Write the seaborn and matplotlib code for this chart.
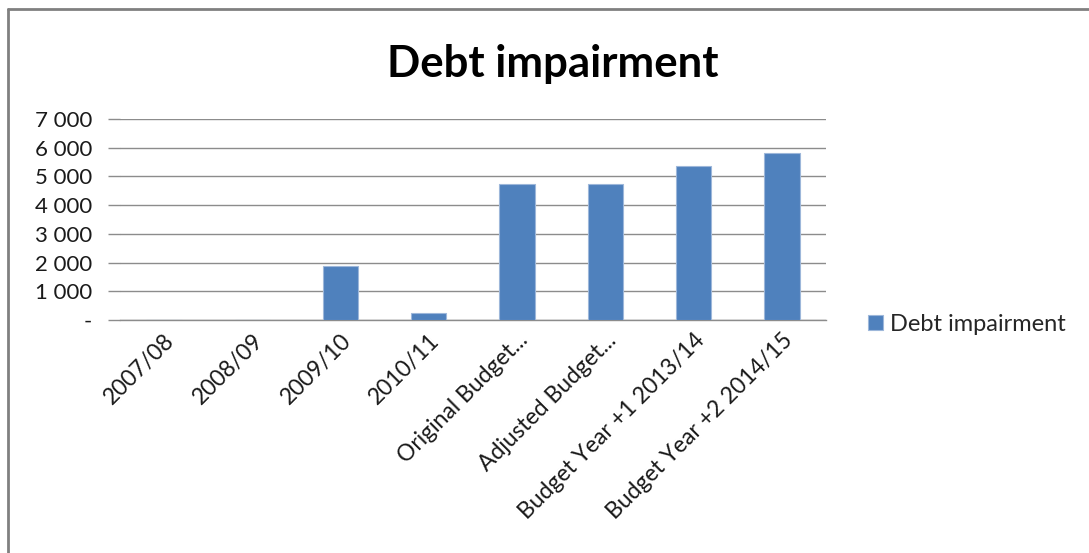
import matplotlib
matplotlib.use('Agg')
import matplotlib.pyplot as plt
import matplotlib.ticker as mticker
import pandas as pd
import seaborn as sns

# Data
categories = ['2007/08', '2008/09', '2009/10', '2010/11', 'Original Budget...',
              'Adjusted Budget...', 'Budget Year +1 2013/14', 'Budget Year +2 2014/15']
values = [0, 0, 1890, 240, 4740, 4740, 5370, 5810]
series_name = 'Debt impairment'

df = pd.DataFrame({'period': categories, 'value': values, 'series': series_name})

sns.set_style('white')
plt.rcParams['font.family'] = ['Lato', 'DejaVu Sans']

fig = plt.figure(figsize=(10.89, 5.53), dpi=100)
ax = fig.add_axes([0.110, 0.4214, 0.6485, 0.3636])

sns.barplot(data=df, x='period', y='value', hue='series', order=categories,
            palette=['#4F81BD'], saturation=1, width=0.4, edgecolor='#9DB7DA',
            linewidth=0.8, ax=ax, zorder=3)

ax.set_ylim(0, 7000)
ax.set_xlim(-0.5, len(categories) - 0.5)
ax.yaxis.set_major_locator(mticker.MultipleLocator(1000))
ax.yaxis.set_major_formatter(mticker.FuncFormatter(
    lambda v, p: '-' if v == 0 else f'{int(v):,}'.replace(',', ' ')))
ax.grid(axis='y', color='#8c8c8c', linewidth=1.0, zorder=0)
ax.set_xlabel('')
ax.set_ylabel('')

for side in ['left', 'right', 'top']:
    ax.spines[side].set_visible(False)
ax.spines['bottom'].set_color('#8c8c8c')
ax.spines['bottom'].set_linewidth(1.0)

# category ticks sit between categories, labels at centres
ax.set_xticks([i - 0.5 for i in range(len(categories) + 1)], minor=False)
ax.set_xticklabels([''] * (len(categories) + 1))
ax.set_xticks(range(len(categories)), minor=True)
ax.set_xticklabels(categories, minor=True, rotation=45, ha='right',
                   rotation_mode='anchor', fontsize=16.5, color='#1a1a1a')
ax.tick_params(axis='x', which='major', length=8, width=1, color='#8c8c8c', direction='out')
ax.tick_params(axis='x', which='minor', length=0, pad=7)
ax.tick_params(axis='y', length=9, width=1, color='#8c8c8c', labelsize=16,
               labelcolor='#1a1a1a', pad=11, left=True)

leg = ax.legend(loc='center left', bbox_to_anchor=(0.778, 0.414),
                bbox_transform=fig.transFigure, frameon=False, fontsize=17,
                handlelength=0.6, handleheight=0.6, handletextpad=0.3)

fig.text(0.508, 0.884, 'Debt impairment', ha='center', va='center',
         fontsize=31.5, fontweight='bold', color='black')

# outer chart frame (left and top edges visible)
fig.add_artist(plt.Line2D([0.0078, 0.0078], [0.0, 0.984], transform=fig.transFigure,
                          color='#808080', linewidth=2))
fig.add_artist(plt.Line2D([0.0078, 1.0], [0.984, 0.984], transform=fig.transFigure,
                          color='#808080', linewidth=2))

fig.savefig('out.png', dpi=100)
